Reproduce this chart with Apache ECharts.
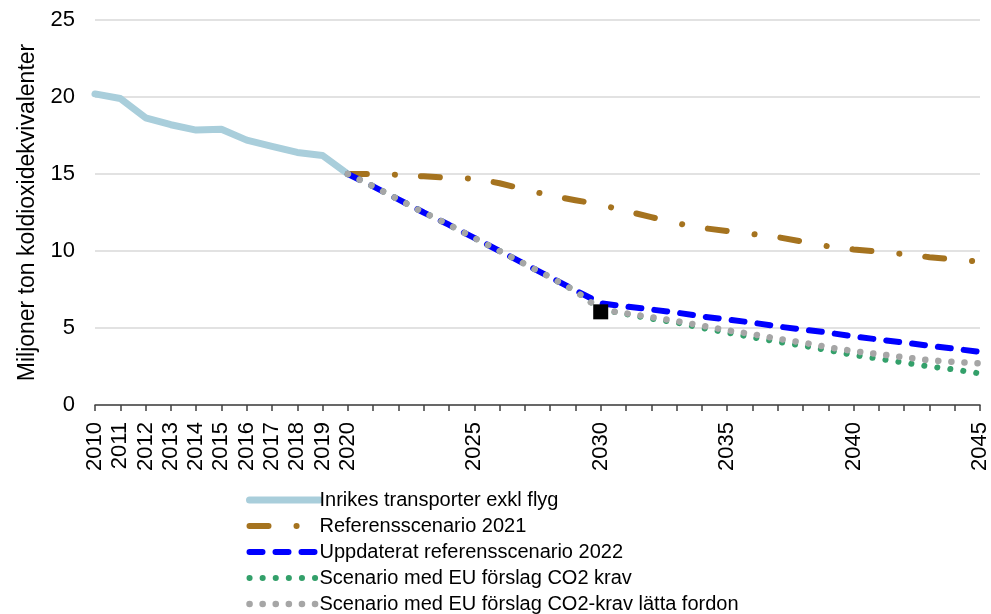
<!DOCTYPE html>
<html>
<head>
<meta charset="utf-8">
<script src="https://cdn.jsdelivr.net/npm/echarts@6/dist/echarts.min.js"></script>
<style>html,body{margin:0;padding:0;background:#fff}#c{width:991px;height:614px}</style>
</head>
<body>
<div id="c"></div>
<script>
const years = [];
for (let y = 2010; y <= 2045; y++) years.push(String(y));

const seriesNames = [
  'Inrikes transporter exkl flyg',
  'Referensscenario 2021',
  'Uppdaterat referensscenario 2022',
  'Scenario med EU förslag CO2 krav',
  'Scenario med EU förslag CO2-krav lätta fordon'
];

// 2010-2020
const historical = [20.2, 19.9, 18.65, 18.2, 17.85, 17.9, 17.2, 16.8, 16.4, 16.2, 15.0];
// 2020-2045
const ref2021 = [15.0, 15.0, 14.95, 14.85, 14.75, 14.7, 14.4, 14.0, 13.6, 13.3, 13.0,
  12.6, 12.2, 11.8, 11.5, 11.3, 11.1, 10.9, 10.6, 10.3, 10.1, 9.95, 9.8, 9.6, 9.45, 9.3];
const upd2022 = [15.0, 14.2, 13.35, 12.5, 11.7, 10.85, 10.0, 9.15, 8.3, 7.45, 6.6,
  6.4, 6.2, 6.0, 5.75, 5.55, 5.35, 5.1, 4.9, 4.7, 4.45, 4.25, 4.05, 3.85, 3.65, 3.45];
const euCO2 = [15.0, 14.2, 13.35, 12.5, 11.7, 10.85, 10.0, 9.15, 8.3, 7.4, 6.2,
  5.9, 5.6, 5.35, 5.0, 4.7, 4.4, 4.1, 3.85, 3.55, 3.25, 3.0, 2.75, 2.5, 2.3, 2.05];
const euLight = [15.0, 14.2, 13.35, 12.5, 11.7, 10.85, 10.0, 9.15, 8.3, 7.4, 6.2,
  5.95, 5.7, 5.45, 5.15, 4.85, 4.6, 4.3, 4.05, 3.75, 3.5, 3.3, 3.1, 2.9, 2.8, 2.7];
const marker2030 = [['2030', 6.05]];

const yTicks = { min: 0, max: 25, interval: 5 };

function pad(arr, start) {
  const out = [];
  for (let i = 0; i < years.length; i++) {
    const y = 2010 + i;
    out.push(y >= start && y - start < arr.length ? arr[y - start] : null);
  }
  return out;
}

const font = 'Liberation Sans, Arial, sans-serif';
const chart = echarts.init(document.getElementById('c'));
chart.setOption({
  animation: false,
  backgroundColor: '#fff',
  grid: { left: 95, right: 9, top: 20, bottom: 209, containLabel: false },
  xAxis: {
    type: 'category',
    data: years,
    boundaryGap: false,
    axisLine: { lineStyle: { color: '#404040', width: 1.5 } },
    axisTick: { show: true, interval: 0, length: 6, lineStyle: { color: '#404040', width: 1.5 } },
    axisLabel: {
      rotate: 90,
      margin: 17,
      fontFamily: font,
      fontSize: 22,
      color: '#000',
      interval: function (idx, val) { const y = +val; return y <= 2020 || y % 5 === 0; }
    },
    splitLine: { show: false }
  },
  yAxis: {
    type: 'value',
    min: yTicks.min, max: yTicks.max, interval: yTicks.interval,
    name: 'Miljoner ton koldioxidekvivalenter',
    nameLocation: 'middle',
    nameGap: 54,
    nameTextStyle: { fontFamily: font, fontSize: 23, color: '#000' },
    axisLine: { show: false },
    axisTick: { show: false },
    axisLabel: { fontFamily: font, fontSize: 22, color: '#000', margin: 20 },
    splitLine: { lineStyle: { color: '#d9d9d9', width: 1.5 } }
  },
  legend: {
    data: seriesNames,
    orient: 'vertical',
    left: 241,
    top: 485,
    height: 200,
    itemWidth: 70,
    itemHeight: 14,
    itemGap: 6,
    itemStyle: { opacity: 0 },
    lineStyle: { width: 'inherit' },
    textStyle: { fontFamily: font, fontSize: 20, lineHeight: 20, color: '#000', padding: [0, 0, 0, -5] }
  },
  series: [
    {
      name: seriesNames[0], type: 'line', data: pad(historical, 2010),
      symbol: 'none', color: '#a9cedb',
      lineStyle: { color: '#a9cedb', width: 7, cap: 'round', join: 'round' }, z: 2
    },
    {
      name: seriesNames[1], type: 'line', data: pad(ref2021, 2020),
      symbol: 'none', color: '#a5731f',
      lineStyle: { color: '#a5731f', width: 6, type: [19, 28, 0.1, 26], cap: 'round', join: 'round' }, z: 3
    },
    {
      name: seriesNames[2], type: 'line', data: pad(upd2022, 2020),
      symbol: 'none', color: '#0000ff',
      lineStyle: { color: '#0000ff', width: 6, type: [13, 13], cap: 'round', join: 'round' }, z: 4
    },
    {
      name: seriesNames[3], type: 'line', data: pad(euCO2, 2020),
      symbol: 'none', color: '#33a06a',
      lineStyle: { color: '#33a06a', width: 6, type: [0.1, 13], cap: 'round', join: 'round' }, z: 5
    },
    {
      name: seriesNames[4], type: 'line', data: pad(euLight, 2020),
      symbol: 'none', color: '#a6a6a6',
      lineStyle: { color: '#a6a6a6', width: 6.5, type: [0.1, 13], cap: 'round', join: 'round' }, z: 6
    },
    {
      name: 'Mål 2030', type: 'scatter', data: marker2030,
      symbol: 'rect', symbolSize: 15,
      itemStyle: { color: '#000', opacity: 1 }, z: 10
    }
  ]
});
</script>
</body>
</html>
